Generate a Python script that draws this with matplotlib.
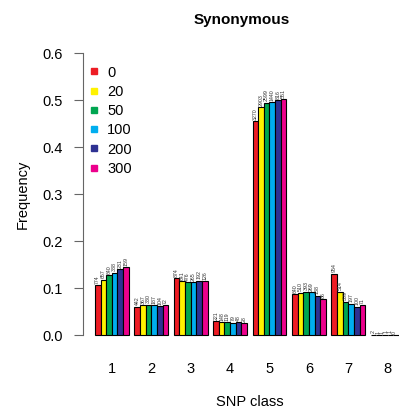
import matplotlib
matplotlib.use("Agg")
import matplotlib.pyplot as plt
from matplotlib.lines import Line2D
import numpy as np

plt.rcParams["font.family"] = ["Liberation Sans", "DejaVu Sans"]

# --- data ---
snp_classes = ["1", "2", "3", "4", "5", "6", "7", "8"]
series_names = ["0", "20", "50", "100", "200", "300"]
colors = ["#ED1C24", "#FFF200", "#00A651", "#00AEEF", "#2E3192", "#EC008C"]

freq_0 = [0.106, 0.060, 0.121, 0.030, 0.455, 0.087, 0.131, 0.0006]
freq_20 = [0.118, 0.063, 0.115, 0.027, 0.485, 0.090, 0.092, 0.0004]
freq_50 = [0.127, 0.065, 0.112, 0.027, 0.494, 0.092, 0.071, 0.0004]
freq_100 = [0.133, 0.063, 0.113, 0.026, 0.496, 0.091, 0.067, 0.0005]
freq_200 = [0.140, 0.062, 0.116, 0.027, 0.500, 0.084, 0.060, 0.0006]
freq_300 = [0.144, 0.064, 0.115, 0.025, 0.502, 0.077, 0.064, 0.0]

count_0 = [774, 442, 874, 221, 3270, 640, 954, 2]
count_20 = [657, 367, 641, 148, 2903, 510, 514, 1]
count_50 = [640, 330, 476, 119, 2599, 393, 309, 1]
count_100 = [388, 187, 265, 79, 1440, 269, 197, 1]
count_200 = [231, 104, 192, 48, 816, 138, 100, 1]
count_300 = [159, 72, 126, 28, 551, 86, 71, 0]

freqs = [freq_0, freq_20, freq_50, freq_100, freq_200, freq_300]
counts = [count_0, count_20, count_50, count_100, count_200, count_300]

fig = plt.figure(figsize=(3.99, 4.08), dpi=100)
ax = fig.add_axes([0.207, 0.151, 0.838, 0.7466])

# R-style barplot(beside=TRUE): bar width 1, one-bar gap between groups
n_series = len(series_names)
n_groups = len(snp_classes)
group_start = 1 + np.arange(n_groups) * (n_series + 1)
for j in range(n_series):
    x = group_start + j + 0.5
    ax.bar(x, freqs[j], width=1.0, color=colors[j], edgecolor="black",
           linewidth=0.8, align="center")
    for g, (xi, yi, c) in enumerate(zip(x, freqs[j], counts[j])):
        if g == n_groups - 1:
            # last group runs off the figure edge: squeeze its labels left
            xi = group_start[g] + 0.5 + 0.72 * j
        ax.text(xi, yi + 0.003, str(c), rotation=90, ha="center",
                va="bottom", fontsize=3.8, color="#333333")

ax.set_xlim(-1.2, 58.2)
ax.set_ylim(-0.024, 0.624)

for s in ["top", "right", "bottom"]:
    ax.spines[s].set_visible(False)
ax.spines["left"].set_bounds(0, 0.6)
ax.spines["left"].set_color("#666666")
ax.set_yticks(np.arange(0, 0.61, 0.1))
ax.set_yticklabels([f"{v:.1f}" for v in np.arange(0, 0.61, 0.1)])
ax.tick_params(axis="y", length=6.5, width=0.8, color="#666666",
               labelsize=10.5, pad=8)

group_centers = group_start + n_series / 2
ax.set_xticks(group_centers)
ax.set_xticklabels(snp_classes)
ax.tick_params(axis="x", length=0, labelsize=10.5, pad=11)
ax.set_xlabel("SNP class", fontsize=10.5, labelpad=14)
ax.set_ylabel("Frequency", fontsize=10.5, labelpad=9)

fig.text(0.607, 0.952, "Synonymous", ha="center", va="center",
         fontsize=11, fontweight="bold")

handles = [Line2D([], [], marker="s", ls="", color=c, markersize=5)
           for c in colors]
ax.legend(handles, series_names, loc="upper left", frameon=False,
          fontsize=10.5, handlelength=0.8, handletextpad=0.5,
          labelspacing=0.36, bbox_to_anchor=(-0.022, 0.965),
          borderaxespad=0.5)

fig.savefig("out.png", dpi=100)
